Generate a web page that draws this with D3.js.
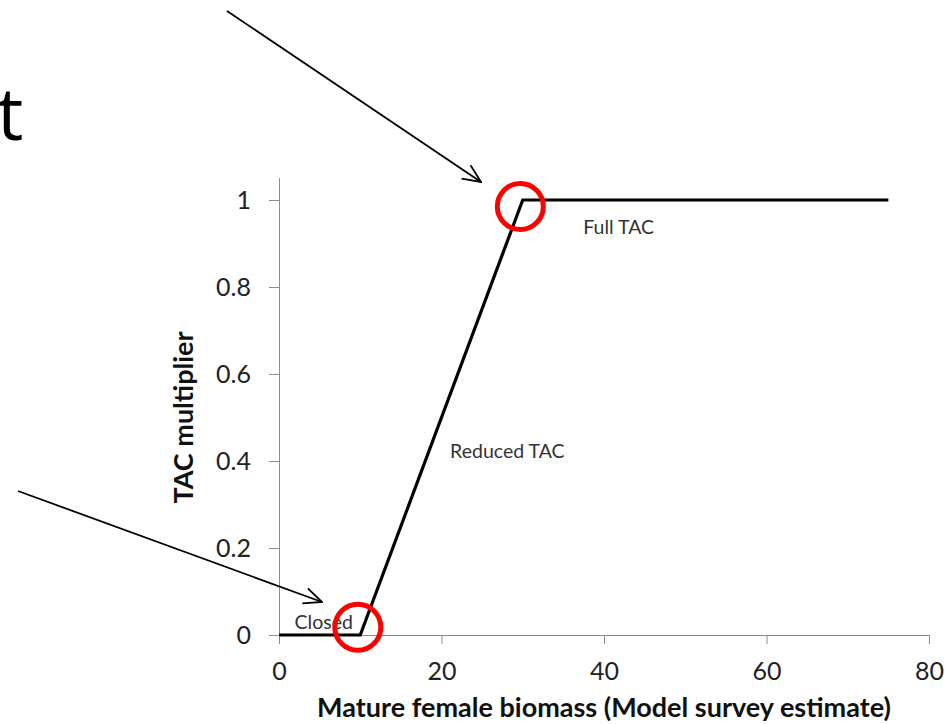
<!DOCTYPE html>
<html>
<head>
<meta charset="utf-8">
<script src="https://cdn.jsdelivr.net/npm/d3@7"></script>
<style>
  body { margin: 0; background: #fff; }
  svg { display: block; font-family: Lato, "Open Sans", sans-serif; }
</style>
</head>
<body>
<div id="chart-area"></div>
<script>
// control rule: TAC multiplier vs mature female biomass
var biomass = [0, 10, 30, 75];
var multiplier = [0, 0, 1, 1];
var xTicks = [0, 20, 40, 60, 80];
var yTicks = [0, 0.2, 0.4, 0.6, 0.8, 1];

var zoneNames = ["Closed", "Reduced TAC", "Full TAC"];
var zoneX = [5.5, 28.1, 41.8];
var zoneY = [0.03, 0.423, 0.938];

// red circles on the break points
var circleX = [9.7, 29.7];
var circleY = [0.018, 0.985];

var margin = { left: 279, right: 19, top: 200, bottom: 89 };
var width = 948 - margin.left - margin.right,
    height = 724 - margin.top - margin.bottom;

var svg = d3.select("#chart-area").append("svg")
    .attr("width", 948)
    .attr("height", 724);

var g = svg.append("g")
    .attr("transform", "translate(" + margin.left + "," + margin.top + ")");

var x = d3.scaleLinear().domain([0, 80]).range([0, width]);
var y = d3.scaleLinear().domain([0, 1]).range([height, 0]);

// X axis
var xAxisCall = d3.axisBottom(x).tickValues(xTicks).tickSize(9).tickSizeOuter(0).tickPadding(18);
var xAxis = g.append("g")
    .attr("transform", "translate(0," + height + ")")
    .call(xAxisCall);

// Y axis (line runs a bit above 1)
var yAxisCall = d3.axisLeft(y).tickValues(yTicks).tickSize(10).tickSizeOuter(0).tickPadding(18)
    .tickFormat(function(d) { return d; });
var yAxis = g.append("g").call(yAxisCall);
yAxis.select(".domain").attr("d", "M0.5,-22V" + height);

[xAxis, yAxis].forEach(function(a) {
    a.select(".domain").attr("stroke", "#8c8c8c");
    a.selectAll(".tick line").attr("stroke", "#8c8c8c");
    a.selectAll(".tick text")
        .attr("font-size", "25px")
        .attr("font-family", "Lato, sans-serif")
        .attr("fill", "#222");
});

// data line
var line = d3.line()
    .x(function(d, i) { return x(biomass[i]); })
    .y(function(d) { return y(d); });

g.append("path")
    .datum(multiplier)
    .attr("d", line)
    .attr("fill", "none")
    .attr("stroke", "#000")
    .attr("stroke-width", 3.2)
    .attr("stroke-linejoin", "miter");

// zone labels
g.selectAll(".zone")
    .data(zoneNames)
    .enter().append("text")
    .attr("class", "zone")
    .attr("x", function(d, i) { return x(zoneX[i]); })
    .attr("y", function(d, i) { return y(zoneY[i]); })
    .attr("dy", "0.35em")
    .attr("text-anchor", "middle")
    .attr("font-size", "19.5px")
    .attr("fill", "#333")
    .text(function(d) { return d; });

// circles
g.selectAll(".ring")
    .data(circleX)
    .enter().append("circle")
    .attr("class", "ring")
    .attr("cx", function(d) { return x(d); })
    .attr("cy", function(d, i) { return y(circleY[i]); })
    .attr("r", 23)
    .attr("fill", "none")
    .attr("stroke", "#f00")
    .attr("stroke-width", 5);

// axis titles
g.append("text")
    .attr("x", width / 2)
    .attr("y", height + 82)
    .attr("text-anchor", "middle")
    .attr("font-size", "27px")
    .attr("font-weight", "bold")
    .attr("fill", "#111")
    .text("Mature female biomass (Model survey estimate)");

g.append("text")
    .attr("x", -(height / 2))
    .attr("y", -86)
    .attr("text-anchor", "middle")
    .attr("transform", "rotate(-90)")
    .attr("font-size", "27px")
    .attr("font-weight", "bold")
    .attr("fill", "#111")
    .text("TAC multiplier");

// leftover slide title letter
svg.append("text")
    .attr("x", -3)
    .attr("y", 140)
    .attr("font-size", "74px")
    .attr("font-family", "'Open Sans', sans-serif")
    .attr("fill", "#000")
    .text("t");

// arrows
var defs = svg.append("defs");
defs.append("marker")
    .attr("id", "head")
    .attr("viewBox", "0 0 20 20")
    .attr("refX", 19)
    .attr("refY", 10)
    .attr("markerWidth", 20)
    .attr("markerHeight", 20)
    .attr("markerUnits", "userSpaceOnUse")
    .attr("orient", "auto")
  .append("path")
    .attr("d", "M1,2L19,10L1,18")
    .attr("fill", "none")
    .attr("stroke", "#000")
    .attr("stroke-width", 1.8);

var arrows = [
    { x1: 227, y1: 11, x2: 481, y2: 182 },
    { x1: 18, y1: 491, x2: 322, y2: 602 }
];
svg.selectAll(".arrow")
    .data(arrows)
    .enter().append("line")
    .attr("class", "arrow")
    .attr("x1", function(d) { return d.x1; })
    .attr("y1", function(d) { return d.y1; })
    .attr("x2", function(d) { return d.x2; })
    .attr("y2", function(d) { return d.y2; })
    .attr("stroke", "#000")
    .attr("stroke-width", 1.8)
    .attr("marker-end", "url(#head)");
</script>
</body>
</html>
